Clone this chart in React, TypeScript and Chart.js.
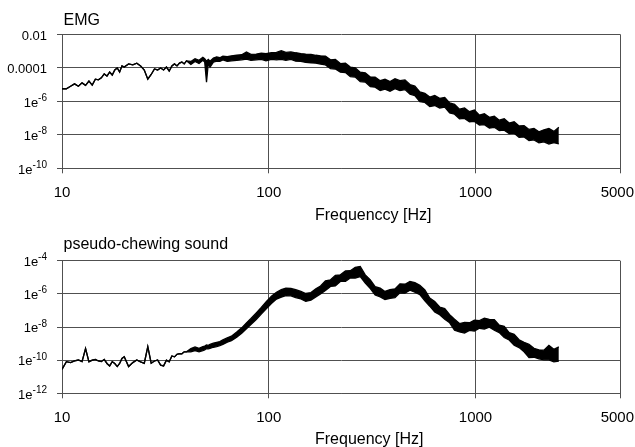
import React, { useEffect, useRef } from "react";
import { Chart, registerables } from "chart.js";

Chart.register(...registerables);

// Shared frequency axis (Hz)
const freqHz = [
  10, 10.5, 11, 11.5, 12, 12.5, 13, 13.5, 14, 14.5,
  15, 15.5, 16, 16.5, 17, 17.5, 18, 18.5, 19, 19.5,
  20, 21, 22, 23, 24, 25, 26, 27, 28, 29,
  30, 31, 32, 33, 34, 35, 36, 37, 38, 39,
  40,
  42, 44, 46, 48, 49, 50, 51, 52, 54, 56, 58, 60,
  63, 66, 70, 74, 78, 82, 87, 92, 97, 103,
  109, 115, 121, 128, 135, 143, 151, 160, 169, 178,
  188, 199, 210, 222, 235, 248, 262, 277, 293, 310,
  327, 346, 365, 386, 408, 431, 456, 482, 509, 538,
  569, 601, 635, 671, 710, 750, 792, 837, 885, 935,
  988, 1045, 1104, 1167, 1233, 1303, 1377, 1455, 1538, 1625,
  1718, 1815, 1918, 2027, 2143, 2265, 2393, 2530,
];

// EMG: thin trace 10-40 Hz
const emgLowLine = [
  5.6e-6, 5.6e-6, 7.9e-6, 1.1e-5, 7.9e-6, 1.26e-5, 8.9e-6, 1.6e-5, 9.3e-6, 2.1e-5,
  1.9e-5, 2.5e-5, 4.3e-5, 3.2e-5, 5.6e-5, 3.7e-5, 7.4e-5, 9.8e-5, 5.6e-5, 1.3e-4,
  1.1e-4, 1.7e-4, 1.5e-4, 1.9e-4, 1.3e-4, 7.4e-5, 2.1e-5, 4e-5, 8.5e-5, 7.4e-5,
  9.8e-5, 7.4e-5, 1.1e-4, 6.5e-5, 1.3e-4, 1.7e-4, 1.3e-4, 1.9e-4, 2.2e-4, 1.7e-4,
  2.6e-4,
];
// EMG: noisy band above 40 Hz (upper / lower envelope)
const emgUpperBand = [
  2.4e-4, 3.5e-4, 2.8e-4, 4.2e-4, 3.5e-4, 2.5e-4, 3.2e-4, 2.5e-4, 3.8e-4, 4.5e-4, 4e-4, 5e-4,
  4.7e-4, 5.2e-4, 5.6e-4, 6e-4, 8.9e-4, 6.3e-4, 6.6e-4, 7.6e-4, 6.9e-4, 7.9e-4,
  8.3e-4, 1.05e-3, 8.3e-4, 8.9e-4, 7.9e-4, 7.1e-4, 6.6e-4, 6.3e-4, 5.6e-4, 5.2e-4,
  5e-4, 3e-4, 3.2e-4, 1.8e-4, 1.9e-4, 1.1e-4, 1e-4, 5.5e-5, 5e-5, 2.8e-5,
  2.8e-5, 1.7e-5, 2.1e-5, 1.5e-5, 2.2e-5, 1.7e-5, 1.9e-5, 1e-5, 8e-6, 3.6e-6,
  3e-6, 1.8e-6, 2.2e-6, 1.5e-6, 1.7e-6, 8e-7, 6.5e-7, 3.4e-7, 4e-7, 2.4e-7,
  3e-7, 1.5e-7, 1.8e-7, 1.1e-7, 1.3e-7, 7.5e-8, 9e-8, 5e-8, 6e-8, 3.4e-8,
  3.5e-8, 2.1e-8, 2.4e-8, 1.5e-8, 2e-8, 2.4e-8, 1.6e-8, 2.8e-8,
];
const emgLowerBand = [
  1.6e-4, 2.4e-4, 1.8e-4, 2.8e-4, 2.2e-4, 1.4e-5, 1.8e-4, 1.1e-4, 2.2e-4, 2.5e-4, 2.4e-4, 3e-4,
  2.4e-4, 2.6e-4, 2.8e-4, 3e-4, 3.3e-4, 2.8e-4, 3e-4, 3.2e-4, 2.6e-4, 3.2e-4,
  3e-4, 3.2e-4, 2.8e-4, 3.2e-4, 2.5e-4, 2.4e-4, 2.1e-4, 2e-4, 1.9e-4, 1.66e-4,
  1.5e-4, 9e-5, 8.5e-5, 5.5e-5, 5.2e-5, 3e-5, 2.8e-5, 1.5e-5, 1.4e-5, 7.5e-6,
  7e-6, 4.4e-6, 5.4e-6, 4e-6, 5.6e-6, 4.3e-6, 5e-6, 2.7e-6, 2.2e-6, 9.5e-7,
  8.5e-7, 4.8e-7, 5.6e-7, 4e-7, 4.5e-7, 2e-7, 1.7e-7, 9e-8, 9.5e-8, 6e-8,
  6.3e-8, 3.8e-8, 4e-8, 2.5e-8, 2.8e-8, 1.8e-8, 1.9e-8, 1.2e-8, 1.25e-8, 7e-9,
  7.5e-9, 4.5e-9, 5e-9, 3.3e-9, 3.8e-9, 2.8e-9, 3.4e-9, 2.9e-9,
];

// Pseudo-chewing sound: thin trace 10-40 Hz
const chewLowLine = [
  2.8e-11, 8.1e-11, 7.1e-11, 8.9e-11, 1.02e-10, 8.1e-11, 5e-10, 7.9e-11, 1e-10, 1.12e-10,
  8.9e-11, 8.1e-11, 1.12e-10, 6.3e-11, 4.5e-11, 8.1e-11, 6.3e-11, 4.1e-11, 6.3e-11, 1.26e-10,
  1.6e-10, 4.1e-11, 7.1e-11, 1.02e-10, 7.9e-11, 6.5e-11, 6.5e-10, 6.5e-11, 8.9e-11, 1.02e-10,
  5e-11, 4.5e-11, 1e-10, 7.9e-11, 1.78e-10, 1.58e-10, 2.24e-10, 2.5e-10, 2.4e-10, 3.2e-10,
  3.2e-10,
];
const chewUpperBand = [
  5e-10, 6.3e-10, 5.2e-10, 6.6e-10, 7.1e-10, 8.3e-10, 7.9e-10, 8.9e-10, 1.05e-9, 1.2e-9, 1.32e-9, 1.66e-9,
  2.24e-9, 2.8e-9, 5e-9, 8.9e-9, 1.78e-8, 3.3e-8, 7.1e-8, 1.5e-7, 3.2e-7, 7.1e-7,
  1.26e-6, 1.78e-6, 2.24e-6, 2.1e-6, 1.78e-6, 1.41e-6, 1.05e-6, 1.2e-6, 2e-6, 3e-6,
  6e-6, 7e-6, 1.3e-5, 1.4e-5, 2.4e-5, 2.5e-5, 4e-5, 4.5e-5, 1.4e-5, 7e-6,
  2.7e-6, 2.2e-6, 1.4e-6, 1.8e-6, 2e-6, 4e-6, 3.8e-6, 5.6e-6, 4.8e-6, 3.3e-6,
  1.7e-6, 5.5e-7, 3.4e-7, 1.6e-7, 1.3e-7, 5.5e-8, 2.9e-8, 1.6e-8, 1.9e-8, 1.8e-8,
  2.6e-8, 2.4e-8, 3.4e-8, 2.9e-8, 2.8e-8, 1.3e-8, 1.1e-8, 4.6e-9, 3.6e-9, 1.7e-9,
  1.2e-9, 8.9e-10, 5.2e-10, 4.2e-10, 4e-10, 7.9e-10, 4.5e-10, 6.3e-10,
];
const chewLowerBand = [
  3.2e-10, 3.8e-10, 3.2e-10, 3.8e-10, 4.2e-10, 5e-10, 4.8e-10, 5.2e-10, 6e-10, 6.6e-10, 7.6e-10, 8.9e-10,
  1.2e-9, 1.5e-9, 2.4e-9, 4.2e-9, 7.9e-9, 1.41e-8, 2.8e-8, 6e-8, 1.2e-7, 2.6e-7,
  4.8e-7, 6.3e-7, 7.9e-7, 7.6e-7, 6e-7, 5e-7, 3.5e-7, 4.2e-7, 6.6e-7, 1e-6,
  1.6e-6, 2.8e-6, 3e-6, 5.6e-6, 5.6e-6, 9e-6, 9e-6, 1.1e-5, 4.5e-6, 2.1e-6,
  8.5e-7, 6.6e-7, 4.5e-7, 5.3e-7, 6e-7, 1.15e-6, 1.1e-6, 1.65e-6, 1.25e-6, 9e-7,
  3.8e-7, 1.8e-7, 8e-8, 5.5e-8, 2.9e-8, 1.8e-8, 6.4e-9, 5e-9, 4.3e-9, 6.2e-9,
  5.7e-9, 8.4e-9, 7.5e-9, 9.8e-9, 6.4e-9, 4.6e-9, 2.3e-9, 1.65e-9, 8e-10, 5.7e-10,
  3.2e-10, 1.41e-10, 1.5e-10, 1.2e-10, 1.05e-10, 1.05e-10, 7.9e-11, 8.9e-11,
];

// Axis ticks and labels
const xTickValues = [10, 100, 1000, 5000];
const xTickLabels = ["10", "100", "1000", "5000"];
const emgYTicks = [1e-10, 1e-8, 1e-6, 1e-4, 1e-2];
const emgYLabels: [string, string][] = [["1e", "-10"], ["1e", "-8"], ["1e", "-6"], ["0.0001", ""], ["0.01", ""]];
const chewYTicks = [1e-12, 1e-10, 1e-8, 1e-6, 1e-4];
const chewYLabels: [string, string][] = [["1e", "-12"], ["1e", "-10"], ["1e", "-8"], ["1e", "-6"], ["1e", "-4"]];

const FONT = '"Liberation Sans", Arial, Helvetica, sans-serif';
const GRID = "#505050";
const INK = "#000000";

const textPlugin = {
  id: "texts",
  afterDraw(chart: any, _args: any, opts: any) {
    const ctx = chart.ctx as CanvasRenderingContext2D;
    const xs = chart.scales.x;
    const ys = chart.scales.y;
    const area = chart.chartArea;
    ctx.save();
    ctx.fillStyle = INK;
    ctx.textBaseline = "alphabetic";
    ctx.textAlign = "left";
    // y tick labels with superscript exponents
    opts.yTicks.forEach((v: number, i: number) => {
      const y = ys.getPixelForValue(v);
      const [base, exp] = opts.yLabels[i];
      let expW = 0;
      if (exp) {
        ctx.font = `10px ${FONT}`;
        expW = ctx.measureText(exp).width;
      }
      ctx.font = `13px ${FONT}`;
      const baseW = ctx.measureText(base).width;
      const x0 = 47 - expW - baseW;
      ctx.fillText(base, x0, y + 5.3);
      if (exp) {
        ctx.font = `10px ${FONT}`;
        ctx.fillText(exp, x0 + baseW, y - 0.5);
      }
    });
    // x tick labels
    ctx.font = `15px ${FONT}`;
    ctx.textAlign = "center";
    xTickValues.forEach((v, i) => {
      let x = xs.getPixelForValue(v);
      const w = ctx.measureText(xTickLabels[i]).width;
      if (x + w / 2 > 634) x = 634 - w / 2;
      ctx.fillText(xTickLabels[i], x, area.bottom + 28.7);
    });
    // titles
    ctx.textAlign = "left";
    ctx.font = `16px ${FONT}`;
    ctx.fillText(opts.title, 63.5, opts.titleY);
    ctx.fillText(opts.xTitle, 315, opts.xTitleY);
    ctx.restore();
  },
};

type Geom = { top: number; xHeight: number; titleY: number; xTitleY: number };

function makeConfig(
  upper: number[],
  lower: number[],
  yMin: number,
  yMax: number,
  yTicks: number[],
  yLabels: [string, string][],
  title: string,
  xTitle: string,
  g: Geom
): any {
  const up = freqHz.map((f, i) => ({ x: f, y: upper[i] }));
  const lo = freqHz.map((f, i) => ({ x: f, y: lower[i] }));
  return {
    type: "line",
    data: {
      datasets: [
        { label: "upper", data: up, borderColor: INK, borderWidth: 1.3, pointRadius: 0, tension: 0, fill: false },
        { label: "lower", data: lo, borderColor: INK, borderWidth: 1.3, pointRadius: 0, tension: 0, fill: "-1", backgroundColor: INK },
      ],
    },
    options: {
      responsive: false,
      animation: false,
      devicePixelRatio: 1,
      layout: { padding: { left: 0, right: 15, top: g.top, bottom: 0 } },
      plugins: {
        legend: { display: false },
        tooltip: { enabled: false },
        texts: { yTicks, yLabels, title, xTitle, titleY: g.titleY, xTitleY: g.xTitleY },
      },
      scales: {
        x: {
          type: "logarithmic",
          min: 10,
          max: 5000,
          afterBuildTicks: (s: any) => {
            s.ticks = xTickValues.map((v) => ({ value: v }));
          },
          afterFit: (s: any) => {
            s.height = g.xHeight;
          },
          ticks: { display: false },
          grid: { color: GRID, lineWidth: 1, drawTicks: true, tickLength: 5 },
          border: { color: GRID, width: 1 },
        },
        y: {
          type: "logarithmic",
          min: yMin,
          max: yMax,
          afterBuildTicks: (s: any) => {
            s.ticks = yTicks.map((v) => ({ value: v }));
          },
          afterFit: (s: any) => {
            s.width = 62;
          },
          ticks: { display: false },
          grid: { color: GRID, lineWidth: 1, drawTicks: true, tickLength: 5 },
          border: { color: GRID, width: 1 },
        },
      },
    },
    plugins: [textPlugin],
  };
}

function ChartCanvas({ top, height, build }: { top: number; height: number; build: () => any }) {
  const ref = useRef<HTMLCanvasElement>(null);
  useEffect(() => {
    const chart = new Chart(ref.current as HTMLCanvasElement, build());
    return () => chart.destroy();
  }, []);
  return (
    <canvas
      ref={ref}
      width={635}
      height={height}
      style={{ position: "absolute", left: 0, top, width: 635, height, display: "block" }}
    />
  );
}

export default function App() {
  return (
    <div style={{ position: "fixed", left: 0, top: 0, width: 635, height: 447, background: "#fff", overflow: "hidden" }}>
      <ChartCanvas
        top={0}
        height={226}
        build={() =>
          makeConfig(
            [...emgLowLine, ...emgUpperBand],
            [...emgLowLine, ...emgLowerBand],
            1e-10,
            1e-2,
            emgYTicks,
            emgYLabels,
            "EMG",
            "Frequenccy [Hz]",
            { top: 34.3, xHeight: 57.7, titleY: 25, xTitleY: 220 }
          )
        }
      />
      <ChartCanvas
        top={226}
        height={221}
        build={() =>
          makeConfig(
            [...chewLowLine, ...chewUpperBand],
            [...chewLowLine, ...chewLowerBand],
            1e-12,
            1e-4,
            chewYTicks,
            chewYLabels,
            "pseudo-chewing sound",
            "Frequency [Hz]",
            { top: 34.7, xHeight: 53.7, titleY: 23, xTitleY: 217.5 }
          )
        }
      />
    </div>
  );
}
